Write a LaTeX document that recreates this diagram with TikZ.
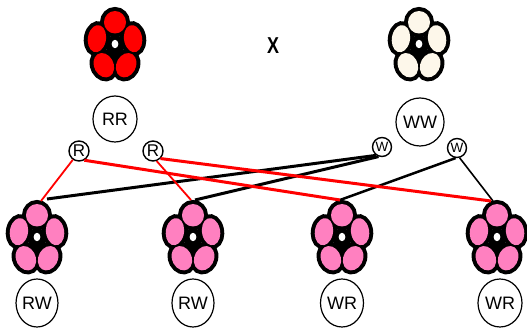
\documentclass[tikz,border=0pt]{standalone}
\usepackage{graphicx}
\usepackage{fontspec}
\setmainfont{Liberation Sans}
\usetikzlibrary{shapes.geometric}
\definecolor{petalred}{RGB}{255,0,0}
\definecolor{petalcream}{RGB}{253,247,234}
\definecolor{petalpink}{RGB}{255,128,192}
\tikzset{
  % five-petal flower, placed at the centre of its petal ring
  pics/flower/.style={code={
    \begin{scope}[yscale=1.25]
      \fill[black] (0,0) circle[radius=9];
      \foreach \a in {90,162,234,306,18}
        \filldraw[black, line width=8pt, rotate=\a] (19,0) ellipse[x radius=9, y radius=11];
      \foreach \a in {90,162,234,306,18}
        \fill[#1, rotate=\a] (19,0) ellipse[x radius=9, y radius=11];
    \end{scope}
    \fill[white] (0,-2) ellipse[x radius=3.4, y radius=4.2];
  }},
  genotype/.style={draw, ellipse, inner sep=0pt, line width=1.2pt,
    font=\fontsize{18}{18}\selectfont},
  allele/.style={draw, circle, inner sep=0pt, line width=1.4pt},
  wire/.style={line width=3pt},
  thinwire/.style={line width=1.8pt},
}
\begin{document}
\begin{tikzpicture}[x=1pt, y=-1pt]
\useasboundingbox[fill=white] (0,0) rectangle (527,328);

% parent flowers and cross sign
\pic at (115,46) {flower=petalred};
\pic at (419,46) {flower=petalcream};
\node (cross) at (273,45.5) {\fontsize{23}{23}\selectfont\bfseries\scalebox{0.78}[1]{X}};

% parent genotypes
\node[genotype, minimum width=44pt, minimum height=46pt] (rr) at (115,119) {RR};
\node[genotype, minimum width=43pt, minimum height=48pt] (ww) at (420,122) {WW};

% gametes
\node[allele, minimum size=20pt, font=\fontsize{17}{17}\selectfont] (r1) at (79,151) {R};
\node[allele, minimum size=20pt, font=\fontsize{17}{17}\selectfont] (r2) at (153,151) {R};
\node[allele, minimum size=19pt, font=\fontsize{13.5}{13.5}\selectfont] (w1) at (382,147) {W};
\node[allele, minimum size=19pt, font=\fontsize{13.5}{13.5}\selectfont] (w2) at (457,148) {W};

% offspring flowers
\pic at (37,239) {flower=petalpink};
\pic at (193,239) {flower=petalpink};
\pic at (342,239) {flower=petalpink};
\pic at (497,239) {flower=petalpink};

% offspring genotypes
\node[genotype, minimum width=41pt, minimum height=48pt] (o1) at (37,303) {RW};
\node[genotype, minimum width=42pt, minimum height=48pt] (o2) at (193,303) {RW};
\node[genotype, minimum width=43pt, minimum height=48pt] (o3) at (342,303) {WR};
\node[genotype, minimum width=44pt, minimum height=48pt] (o4) at (500,303) {WR};

% attachment points on top of the offspring flowers
\coordinate (f1a) at (41,201);
\coordinate (f1b) at (47,199);
\coordinate (f2a) at (191,200);
\coordinate (f2b) at (195,200);
\coordinate (f3a) at (340,200);
\coordinate (f4a) at (491,201);
\coordinate (f4b) at (493,201);

% W gametes
\draw[wire] (w1.235) -- (f1b);
\draw[wire] (w1.250) -- (f2b);
\draw[line width=2.5pt] (w2.262) -- (f3a);
\draw[line width=1.6pt] (w2.285) -- (f4b);

% R gametes
\draw[thinwire, red] (r1.235) -- (f1a);
\draw[wire, red] (r1.300) -- (f3a);
\draw[thinwire, red] (r2.290) -- (f2a);
\draw[wire, red] (r2.315) -- (f4a);
\end{tikzpicture}
\end{document}
